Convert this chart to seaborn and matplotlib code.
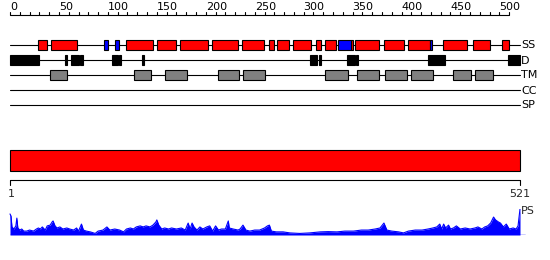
import matplotlib
matplotlib.use("Agg")
import matplotlib.pyplot as plt
from matplotlib.patches import Rectangle
import seaborn as sns
import pandas as pd

# ---------------- data ----------------
SEQ_LEN = 521
ROWS = ["SS", "D", "TM", "CC", "SP"]

ss_helix = [(29, 38), (42, 68), (118, 146), (150, 170), (174, 202), (206, 233),
            (237, 259), (265, 270), (273, 285), (289, 308), (313, 318), (322, 333),
            (348, 350), (352, 377), (382, 403), (407, 429), (442, 467), (473, 490),
            (503, 510)]
ss_strand = [(96, 100), (107, 111), (335, 348), (429, 431)]
disorder = [(0, 30), (56, 58), (62, 70), (71, 75), (104, 110), (111, 113), (135, 137),
            (306, 314), (316, 318), (344, 352), (353, 355), (427, 444), (509, 521)]
tm_segments = [(41, 58), (127, 144), (158, 181), (212, 234), (238, 260), (322, 345),
               (354, 377), (383, 406), (410, 432), (453, 471), (475, 493)]
domain_bar = [(0, 521)]

ruler_ticks_major = [0, 50, 100, 150, 200, 250, 300, 350, 400, 450, 500]
bottom_labels = ["1", "521"]

ps_pos = [0, 1, 2, 4, 6, 7, 8, 10, 12, 14, 17, 20, 24, 27, 29, 31, 33, 36, 38, 41, 43, 44,
          46, 48, 51, 54, 58, 61, 65, 68, 70, 73, 75, 78, 82, 87, 90, 95, 99, 102, 107,
          112, 116, 119, 123, 126, 129, 133, 136, 139, 143, 146, 149, 150, 152, 155, 158,
          162, 165, 170, 175, 179, 182, 184, 186, 188, 191, 194, 197, 201, 204, 207, 210,
          213, 216, 220, 223, 224, 228, 233, 235, 238, 241, 245, 250, 255, 260, 263, 265,
          267, 272, 279, 286, 296, 306, 317, 325, 334, 342, 351, 359, 366, 373, 378, 382,
          385, 390, 397, 402, 407, 414, 421, 427, 432, 436, 439, 441, 443, 445, 448, 450,
          453, 456, 460, 465, 470, 475, 478, 482, 485, 488, 491, 494, 496, 499, 501, 504,
          507, 510, 514, 517, 519, 521]
ps_val = [0.81, 0.73, 0.31, 0.23, 0.35, 0.65, 0.27, 0.19, 0.23, 0.15, 0.15, 0.19, 0.15,
          0.23, 0.27, 0.23, 0.31, 0.19, 0.35, 0.38, 0.50, 0.54, 0.35, 0.27, 0.31, 0.23,
          0.27, 0.23, 0.19, 0.27, 0.15, 0.42, 0.19, 0.15, 0.12, 0.06, 0.15, 0.19, 0.31,
          0.19, 0.23, 0.19, 0.12, 0.23, 0.27, 0.23, 0.31, 0.35, 0.31, 0.35, 0.31, 0.38,
          0.50, 0.58, 0.38, 0.23, 0.27, 0.23, 0.27, 0.23, 0.27, 0.19, 0.46, 0.23, 0.46,
          0.31, 0.19, 0.31, 0.23, 0.31, 0.35, 0.15, 0.35, 0.19, 0.23, 0.23, 0.54, 0.27,
          0.23, 0.19, 0.23, 0.38, 0.19, 0.15, 0.19, 0.19, 0.27, 0.35, 0.38, 0.15, 0.12,
          0.12, 0.08, 0.06, 0.08, 0.12, 0.13, 0.12, 0.15, 0.15, 0.19, 0.19, 0.23, 0.27,
          0.46, 0.19, 0.15, 0.12, 0.08, 0.15, 0.19, 0.19, 0.23, 0.27, 0.31, 0.42, 0.23,
          0.42, 0.27, 0.38, 0.23, 0.27, 0.35, 0.23, 0.27, 0.23, 0.27, 0.31, 0.23, 0.31,
          0.35, 0.46, 0.69, 0.58, 0.50, 0.46, 0.31, 0.42, 0.23, 0.27, 0.23, 0.35, 1.00]

# ---------------- layout helpers ----------------
W, H = 550, 260
K = 510 / SEQ_LEN      # pixels per residue
X0 = 10                 # pixel of residue 0
XL = (-X0 / K, (W - X0) / K)

sns.set_theme(style="white")
plt.rcParams["font.family"] = ["DejaVu Sans"]

fig = plt.figure(figsize=(W / 100, H / 100), dpi=100)
ax = fig.add_axes([0, 0, 1, 1])
ax.set_xlim(*XL)
ax.set_ylim(H, 0)
ax.axis("off")

LW = 0.8
row_y = {"SS": 45, "D": 60, "TM": 75, "CC": 90, "SP": 105}

# top ruler
ruler_y = 15
ax.plot([0, 510], [ruler_y, ruler_y], color="black", lw=LW, solid_capstyle="butt")
for t in range(0, 511, 10):
    ax.plot([t, t], [ruler_y, ruler_y - 3], color="black", lw=LW)
for t in ruler_ticks_major:
    ax.text(t, ruler_y - 3.5, str(t), ha="left", va="bottom", fontsize=8, color="black")

# feature rows
for name in ROWS:
    y = row_y[name]
    ax.plot([0, SEQ_LEN], [y, y], color="black", lw=LW, zorder=1)
    ax.text(SEQ_LEN + 1, y + 0.5, name, ha="left", va="center", fontsize=8, color="black")

def boxes(segs, y, color, h=10):
    for s, e in segs:
        ax.add_patch(Rectangle((s, y - h / 2), e - s, h, facecolor=color,
                               edgecolor="black", lw=LW, zorder=3))

boxes(ss_helix, row_y["SS"], "#ff0000")
boxes(ss_strand, row_y["SS"], "#0000ff")
boxes(disorder, row_y["D"], "#000000")
boxes(tm_segments, row_y["TM"], "#808080")

# domain bar
for s, e in domain_bar:
    ax.add_patch(Rectangle((s, 150), e - s, 20.5, facecolor="#ff0000",
                           edgecolor="black", lw=LW, zorder=3))

# bottom ruler
by = 180
ax.plot([0, SEQ_LEN], [by, by], color="black", lw=LW)
ax.plot([0, 0], [by, by + 5], color="black", lw=LW)
ax.plot([SEQ_LEN, SEQ_LEN], [by, by + 5], color="black", lw=LW)
ax.text(1, by + 9, bottom_labels[0], ha="center", va="top", fontsize=8)
ax.text(SEQ_LEN, by + 9, bottom_labels[1], ha="center", va="top", fontsize=8)

# PS profile
base_px, top_px = 235, 209
ax2 = fig.add_axes([0, (H - base_px) / H, 1, (base_px - top_px) / H])
ax2.set_xlim(*XL)
ax2.set_ylim(0, 1)
ax2.axis("off")
ax2.patch.set_alpha(0)
df = pd.DataFrame({"pos": ps_pos, "score": ps_val})
sns.lineplot(data=df, x="pos", y="score", ax=ax2, color="#0000ff", lw=0.8)
ax2.fill_between(df["pos"], 0, df["score"], color="#0000ff", lw=0)
ax2.plot([0, SEQ_LEN + 5], [0, 0], color="#0000ff", lw=1.0)
ax.text(SEQ_LEN + 1, 211, "PS", ha="left", va="center", fontsize=8)

fig.savefig("out.png", dpi=100)
